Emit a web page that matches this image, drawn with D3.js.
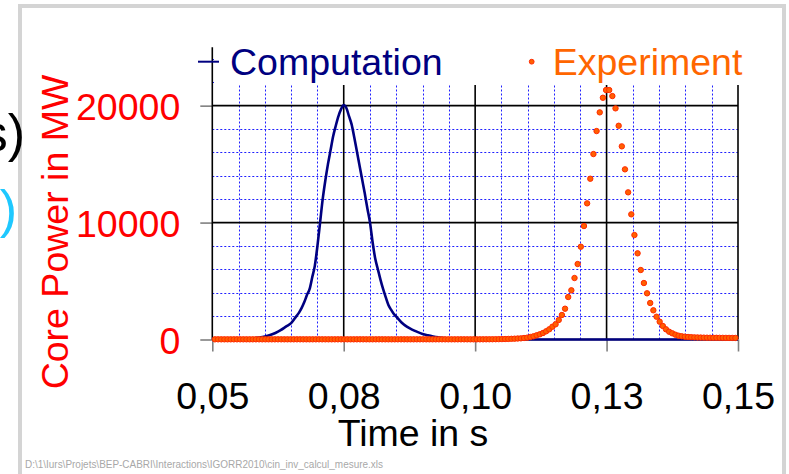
<!DOCTYPE html>
<html><head><meta charset="utf-8">
<script src="https://cdn.jsdelivr.net/npm/d3@7"></script>
<style>
body{margin:0;background:#fff}
svg{display:block}
text{font-family:"Liberation Sans",Arial,sans-serif}
</style>
</head><body>
<svg id="c" width="789" height="474"></svg>
<script>
// ---------- data ----------
const xTickValues = [0.05, 0.075, 0.1, 0.125, 0.15];
const xTickLabels = ["0,05", "0,08", "0,10", "0,13", "0,15"];
const yTickValues = [0, 10000, 20000];
const yTickLabels = ["0", "10000", "20000"];
const seriesNames = ["Computation", "Experiment"];
const xTitle = "Time in s";
const yTitle = "Core Power in MW";
const footerText = "D:\\1\\Iurs\\Projets\\BEP-CABRI\\Interactions\\IGORR2010\\cin_inv_calcul_mesure.xls";

// Computation (continuous line)
const compTimes = [0.050,0.052,0.054,0.056,0.057,0.058,0.059,0.060,0.061,0.062,
  0.063,0.064,0.065,0.066,0.0665,0.067,0.0675,0.068,0.0685,0.069,
  0.0695,0.070,0.0705,0.071,0.0715,0.072,0.0725,0.073,0.0735,0.074,
  0.0745,0.075,0.0755,0.076,0.0765,0.077,0.0775,0.078,0.0785,0.079,
  0.0795,0.080,0.0805,0.081,0.0815,0.082,0.0825,0.083,0.0835,0.084,
  0.0845,0.085,0.086,0.087,0.088,0.089,0.090,0.091,0.092,0.093,
  0.094,0.095,0.097,0.100,0.105,0.150];
const compValues = [0,5,15,40,65,100,160,250,380,560,
  800,1100,1400,2000,2300,2700,3200,3800,4300,5300,
  6300,8000,10000,12000,13600,15000,16200,17400,18300,19100,
  19700,20050,19800,19100,18400,17300,16100,14900,13700,12500,
  11200,10000,8300,6900,6000,5100,4300,3600,2950,2550,
  2200,1950,1450,1100,850,650,480,360,260,180,
  120,80,35,10,0,0];

// Experiment (sampled every 0.6 ms starting at 0.0505 s)
const expStartTime = 0.0505;
const expTimeStep = 0.0006;
const expValues = [
  15,15,15,15,15,15,15,15,15,15,
  15,15,15,15,15,15,15,15,15,15,
  15,15,15,15,15,15,15,15,15,15,
  15,15,15,15,15,15,15,15,15,15,
  15,15,15,15,15,15,15,15,15,15,
  15,15,15,15,15,15,15,15,15,15,
  15,15,15,15,15,15,15,15,15,15,
  15,15,15,15,15,15,15,15,15,15,
  15,15,15,15,15,15,
  18,20,23,26,30,35,40,48,58,70,
  85,100,128,160,214,274,359,445,556,701,
  872,1094,1300,1667,2095,2634,3634,4207,5259,6456,
  7935,9705,11646,13750,15862,17828,19427,20676,21334,21334,
  20821,19769,18281,16520,14553,12587,10706,8935,7371,5943,
  4831,3950,3121,2497,1950,1522,1154,872,667,530,
  410,325,274,240,215,200,185,175,165,160,
  155,150,148,145,143,140,138,136,135,134];

// ---------- chart ----------
const svg = d3.select("#c");
const FS = 37.5;
const x = d3.scaleLinear().domain([0.05, 0.15]).range([212.3, 738]);
const y = d3.scaleLinear().domain([0, 25000]).range([339.5, 47.2]);

const compData = compTimes.map((t, i) => ({t, v: compValues[i]}));
const expData = expValues.map((v, i) => ({t: expStartTime + i * expTimeStep, v}));

// slide frame
svg.append("rect").attr("x", 20).attr("y", 6).attr("width", 764).attr("height", 520)
  .attr("fill", "none").attr("stroke", "#d4d4d4").attr("stroke-width", 4);

const g = svg.append("g");

// minor grid (dashed blue)
const minorX = d3.range(0, 21).map(i => 0.05 + i * 0.005).filter(v => !xTickValues.some(m => Math.abs(m - v) < 1e-9));
const minorY = d3.range(1, 13).map(i => i * 2000).filter(v => v % 10000 !== 0);
g.append("g").selectAll("line").data(minorX).join("line")
  .attr("x1", d => Math.round(x(d)) + 0.5).attr("x2", d => Math.round(x(d)) + 0.5)
  .attr("y1", y(0)).attr("y2", y(25000))
  .attr("stroke", "#2020ff").attr("stroke-width", 1).attr("stroke-dasharray", "2,2");
g.append("g").selectAll("line").data(minorY).join("line")
  .attr("x1", x(0.05)).attr("x2", x(0.15))
  .attr("y1", d => Math.round(y(d)) + 0.5).attr("y2", d => Math.round(y(d)) + 0.5)
  .attr("stroke", "#2020ff").attr("stroke-width", 1).attr("stroke-dasharray", "2,2");

// major grid (black)
g.append("g").selectAll("line").data(xTickValues.slice(1)).join("line")
  .attr("x1", d => x(d)).attr("x2", d => x(d))
  .attr("y1", y(0)).attr("y2", y(25000))
  .attr("stroke", "#000").attr("stroke-width", 1.6);
g.append("g").selectAll("line").data(yTickValues.slice(1)).join("line")
  .attr("x1", x(0.05)).attr("x2", x(0.15))
  .attr("y1", d => y(d)).attr("y2", d => y(d))
  .attr("stroke", "#000").attr("stroke-width", 1.6);

// legend background (covers top of plot area)
svg.append("rect").attr("x", 214).attr("y", 40).attr("width", 566).attr("height", 45).attr("fill", "#fff");

// axes
const xAxis = d3.axisBottom(x).tickValues(xTickValues).tickSize(12).tickFormat((d, i) => xTickLabels[i]);
const xg = svg.append("g").attr("transform", `translate(0,${y(0)})`).call(xAxis);
xg.select(".domain").remove();
xg.selectAll(".tick line").attr("stroke", "#808080").attr("stroke-width", 1.6);
xg.selectAll(".tick text").attr("y", 69.5).attr("dy", null)
  .attr("font-size", FS).attr("font-family", "Liberation Sans, Arial, sans-serif").attr("fill", "#000");

const yAxis = d3.axisLeft(y).tickValues(yTickValues).tickSize(12).tickFormat((d, i) => yTickLabels[i]);
const yg = svg.append("g").attr("transform", `translate(${x(0.05)},0)`).call(yAxis);
yg.select(".domain").remove();
yg.selectAll(".tick line").attr("stroke", "#808080").attr("stroke-width", 1.6);
yg.selectAll(".tick text").attr("x", -32).attr("dy", "0.36em")
  .attr("font-size", FS).attr("font-family", "Liberation Sans, Arial, sans-serif").attr("fill", "#ff0000");

svg.append("line").attr("x1", x(0.05)).attr("x2", x(0.05)).attr("y1", y(25000)).attr("y2", y(0))
  .attr("stroke", "#000").attr("stroke-width", 1.6);
svg.append("line").attr("x1", x(0.05)).attr("x2", x(0.15)).attr("y1", y(0)).attr("y2", y(0))
  .attr("stroke", "#000").attr("stroke-width", 1.6);

// computation line
svg.append("path").datum(compData)
  .attr("d", d3.line().x(d => x(d.t)).y(d => y(d.v)).curve(d3.curveMonotoneX))
  .attr("fill", "none").attr("stroke", "#000080").attr("stroke-width", 2.6);

// experiment dots
svg.append("g").selectAll("circle").data(expData).join("circle")
  .attr("cx", d => x(d.t)).attr("cy", d => y(d.v)).attr("r", 2.7)
  .attr("fill", "#ff6000").attr("stroke", "#ff2a00").attr("stroke-width", 1);

// legend
svg.append("line").attr("x1", 198).attr("x2", 219).attr("y1", 61.7).attr("y2", 61.7)
  .attr("stroke", "#000080").attr("stroke-width", 2);
svg.append("text").attr("x", 230).attr("y", 75).attr("font-size", FS).attr("fill", "#000080").text(seriesNames[0]);
svg.append("circle").attr("cx", 531.7).attr("cy", 61.7).attr("r", 2.4)
  .attr("fill", "#ff6000").attr("stroke", "#ff2a00").attr("stroke-width", 1);
svg.append("text").attr("x", 552.7).attr("y", 74.5).attr("font-size", FS).attr("fill", "#ff6600").text(seriesNames[1]);

// axis titles
svg.append("text").attr("transform", "translate(68,232) rotate(-90)").attr("text-anchor", "middle")
  .attr("font-size", FS).attr("fill", "#ff0000").text(yTitle);
svg.append("text").attr("x", 413).attr("y", 446).attr("text-anchor", "middle")
  .attr("font-size", FS).attr("fill", "#000").text(xTitle);

// slide text fragments at left edge (cut off in the original slide)
svg.append("text").attr("x", 25).attr("y", 151).attr("text-anchor", "end")
  .attr("font-size", 52).attr("fill", "#000").text("s)");
svg.append("text").attr("x", 17).attr("y", 227).attr("text-anchor", "end")
  .attr("font-size", 52).attr("fill", "#1ec8ff").text(")");

// footer
svg.append("text").attr("x", 25).attr("y", 468).attr("font-size", 10.5).attr("fill", "#a8a8a8")
  .attr("textLength", 358).attr("lengthAdjust", "spacingAndGlyphs").text(footerText);
</script>
</body></html>
